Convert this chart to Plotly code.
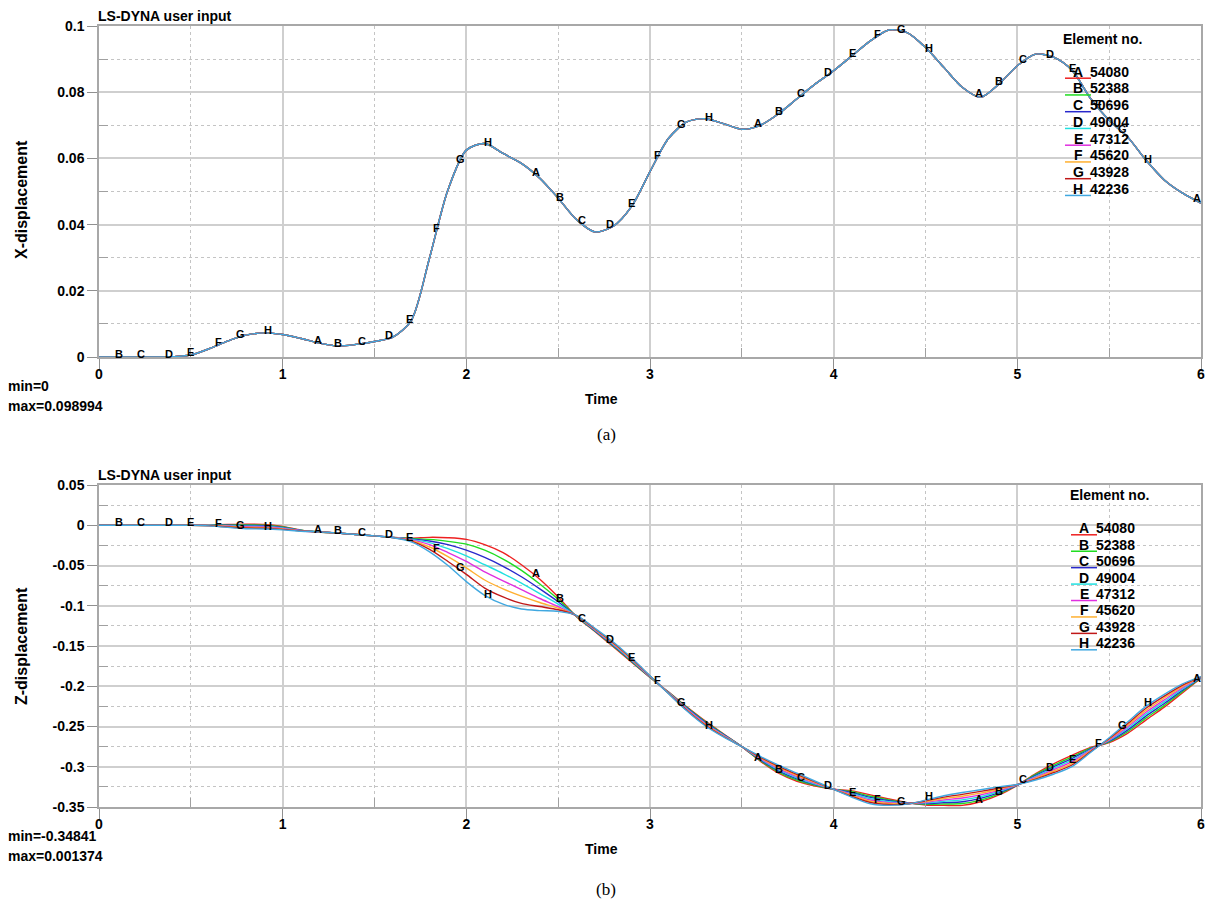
import numpy as np
import plotly.graph_objects as go

W, H = 1213, 904

# ---------------- data ----------------
time = [0.0, 0.1, 0.2, 0.3, 0.4, 0.5, 0.6, 0.7, 0.8, 0.9,
        1.0, 1.1, 1.2, 1.3, 1.4, 1.5, 1.6, 1.7, 1.8, 1.9,
        2.0, 2.1, 2.2, 2.3, 2.4, 2.5, 2.6, 2.7, 2.8, 2.9,
        3.0, 3.1, 3.2, 3.3, 3.4, 3.5, 3.6, 3.7, 3.8, 3.9,
        4.0, 4.1, 4.2, 4.3, 4.4, 4.5, 4.6, 4.7, 4.8, 4.9,
        5.0, 5.1, 5.2, 5.3, 5.4, 5.5, 5.6, 5.7, 5.8, 5.9, 6.0]

letters = ["A", "B", "C", "D", "E", "F", "G", "H"]
elements = ["54080", "52388", "50696", "49004", "47312", "45620", "43928", "42236"]
colors = ["#ee2020", "#20dd20", "#2828cc", "#20e0e0", "#e030e0", "#ffb030", "#c01818", "#40a8e0"]

# X-displacement (all eight elements coincide)
x_disp = [0.0, 0.0, 0.0, 0.0, 0.0001, 0.0006, 0.0025, 0.0048, 0.0066, 0.0073,
          0.0068, 0.0056, 0.0042, 0.0033, 0.0038, 0.0047, 0.0060, 0.0110, 0.0300, 0.0505,
          0.0625, 0.0645, 0.0615, 0.0585, 0.0540, 0.0480, 0.0415, 0.0378, 0.0395, 0.0455,
          0.0560, 0.0660, 0.0710, 0.0720, 0.0705, 0.0688, 0.0700, 0.0735, 0.0780, 0.0825,
          0.0865, 0.0910, 0.0955, 0.0988, 0.0980, 0.0935, 0.0875, 0.0815, 0.0785, 0.0825,
          0.0880, 0.0915, 0.0905, 0.0865, 0.0780, 0.0715, 0.0665, 0.0595, 0.0535, 0.0495, 0.0465]

# Z-displacement per element
z_A = [0, 0, 0, 0, 0, 0, 0.0003, 0.0009, 0.0013, 0.0010,
       -0.0015, -0.0060, -0.0084, -0.0098, -0.0115, -0.0132, -0.0150, -0.0160, -0.0150, -0.0155,
       -0.0175, -0.0240, -0.0340, -0.0490, -0.0670, -0.0890, -0.1135, -0.1320, -0.1510, -0.1700,
       -0.1890, -0.2070, -0.2255, -0.2430, -0.2590, -0.2750, -0.2930, -0.3080, -0.3180, -0.3240,
       -0.3280, -0.3300, -0.3350, -0.3400, -0.3445, -0.3475, -0.3480, -0.3480, -0.3435, -0.3350,
       -0.3230, -0.3085, -0.2960, -0.2855, -0.2760, -0.2700, -0.2585, -0.2420, -0.2260, -0.2080, -0.1900]
z_B = [0, 0, 0, 0, 0, 0, 0.0002, 0.0005, 0.0005, 0.0002,
       -0.0021, -0.0062, -0.0084, -0.0098, -0.0115, -0.0132, -0.0150, -0.0165, -0.0175, -0.0200,
       -0.0235, -0.0310, -0.0420, -0.0560, -0.0730, -0.0920, -0.1133, -0.1314, -0.1501, -0.1693,
       -0.1887, -0.2073, -0.2262, -0.2439, -0.2596, -0.2750, -0.2921, -0.3066, -0.3166, -0.3231,
       -0.3280, -0.3311, -0.3366, -0.3411, -0.3448, -0.3466, -0.3463, -0.3457, -0.3414, -0.3336,
       -0.3229, -0.3096, -0.2979, -0.2875, -0.2769, -0.2691, -0.2565, -0.2396, -0.2237, -0.2064, -0.1897]
z_C = [0, 0, 0, 0, 0, 0, 0.0001, 0.0000, -0.0003, -0.0006,
       -0.0027, -0.0064, -0.0083, -0.0098, -0.0115, -0.0132, -0.0151, -0.0170, -0.0195, -0.0240,
       -0.0310, -0.0400, -0.0510, -0.0640, -0.0790, -0.0950, -0.1131, -0.1309, -0.1493, -0.1686,
       -0.1884, -0.2076, -0.2269, -0.2447, -0.2601, -0.2750, -0.2913, -0.3051, -0.3151, -0.3223,
       -0.3280, -0.3323, -0.3381, -0.3423, -0.3451, -0.3458, -0.3446, -0.3434, -0.3392, -0.3321,
       -0.3227, -0.3108, -0.2997, -0.2895, -0.2777, -0.2683, -0.2545, -0.2371, -0.2214, -0.2049, -0.1894]
z_D = [0, 0, 0, 0, 0, 0, 0.0000, -0.0005, -0.0011, -0.0014,
       -0.0033, -0.0066, -0.0083, -0.0098, -0.0115, -0.0132, -0.0151, -0.0176, -0.0215, -0.0290,
       -0.0380, -0.0490, -0.0600, -0.0720, -0.0850, -0.0980, -0.1129, -0.1303, -0.1484, -0.1679,
       -0.1881, -0.2079, -0.2276, -0.2456, -0.2607, -0.2750, -0.2904, -0.3037, -0.3137, -0.3214,
       -0.3280, -0.3334, -0.3397, -0.3434, -0.3454, -0.3449, -0.3429, -0.3411, -0.3371, -0.3307,
       -0.3226, -0.3119, -0.3016, -0.2915, -0.2786, -0.2674, -0.2525, -0.2347, -0.2191, -0.2033, -0.1891]
z_E = [0, 0, 0, 0, 0, 0, -0.0002, -0.0010, -0.0019, -0.0022,
       -0.0039, -0.0068, -0.0083, -0.0098, -0.0115, -0.0132, -0.0152, -0.0182, -0.0240, -0.0340,
       -0.0450, -0.0580, -0.0690, -0.0800, -0.0910, -0.1010, -0.1127, -0.1297, -0.1476, -0.1671,
       -0.1879, -0.2081, -0.2284, -0.2464, -0.2613, -0.2750, -0.2896, -0.3023, -0.3123, -0.3206,
       -0.3280, -0.3346, -0.3413, -0.3446, -0.3456, -0.3441, -0.3411, -0.3389, -0.3349, -0.3293,
       -0.3224, -0.3131, -0.3034, -0.2935, -0.2794, -0.2666, -0.2505, -0.2323, -0.2169, -0.2017, -0.1889]
z_F = [0, 0, 0, 0, 0, 0, -0.0004, -0.0015, -0.0027, -0.0030,
       -0.0045, -0.0070, -0.0083, -0.0098, -0.0115, -0.0132, -0.0153, -0.0189, -0.0270, -0.0390,
       -0.0530, -0.0680, -0.0790, -0.0880, -0.0960, -0.1030, -0.1125, -0.1291, -0.1467, -0.1664,
       -0.1876, -0.2084, -0.2291, -0.2473, -0.2619, -0.2750, -0.2887, -0.3009, -0.3109, -0.3197,
       -0.3280, -0.3357, -0.3429, -0.3457, -0.3459, -0.3432, -0.3394, -0.3366, -0.3328, -0.3279,
       -0.3223, -0.3142, -0.3053, -0.2955, -0.2803, -0.2657, -0.2485, -0.2299, -0.2146, -0.2001, -0.1886]
z_G = [0, 0, 0, 0, 0, 0, -0.0006, -0.0021, -0.0035, -0.0038,
       -0.0051, -0.0072, -0.0082, -0.0098, -0.0115, -0.0132, -0.0154, -0.0197, -0.0300, -0.0450,
       -0.0610, -0.0780, -0.0890, -0.0970, -0.1010, -0.1050, -0.1123, -0.1286, -0.1459, -0.1657,
       -0.1873, -0.2087, -0.2298, -0.2481, -0.2624, -0.2750, -0.2879, -0.2994, -0.3094, -0.3189,
       -0.3280, -0.3369, -0.3444, -0.3469, -0.3462, -0.3424, -0.3377, -0.3343, -0.3306, -0.3264,
       -0.3221, -0.3154, -0.3071, -0.2975, -0.2811, -0.2649, -0.2465, -0.2274, -0.2123, -0.1986, -0.1883]
z_H = [0, 0, 0, 0, 0, 0, -0.0008, -0.0027, -0.0043, -0.0046,
       -0.0057, -0.0074, -0.0082, -0.0098, -0.0115, -0.0132, -0.0156, -0.0206, -0.0330, -0.0500,
       -0.0700, -0.0870, -0.0980, -0.1040, -0.1060, -0.1070, -0.1120, -0.1280, -0.1450, -0.1650,
       -0.1870, -0.2090, -0.2305, -0.2490, -0.2630, -0.2750, -0.2870, -0.2980, -0.3080, -0.3180,
       -0.3280, -0.3380, -0.3460, -0.3480, -0.3465, -0.3415, -0.3360, -0.3320, -0.3285, -0.3250,
       -0.3220, -0.3165, -0.3090, -0.2995, -0.2820, -0.2640, -0.2445, -0.2250, -0.2100, -0.1970, -0.1880]
z_series = [z_A, z_B, z_C, z_D, z_E, z_F, z_G, z_H]

# times at which each curve's letter marker is printed
lab_A = [1.19, 2.38, 3.59, 4.79, 5.98]
lab_B = [0.11, 1.30, 2.51, 3.70, 4.90]
lab_C = [0.23, 1.43, 2.63, 3.82, 5.03]
lab_D = [0.38, 1.58, 2.78, 3.97, 5.18]
lab_E = [0.50, 1.69, 2.90, 4.10, 5.30]
lab_F = [0.65, 1.84, 3.04, 4.24, 5.44]
lab_G = [0.77, 1.97, 3.17, 4.37, 5.57]
lab_H = [0.92, 2.12, 3.32, 4.52, 5.71]
label_times = [lab_A, lab_B, lab_C, lab_D, lab_E, lab_F, lab_G, lab_H]

x_ticks = [0, 1, 2, 3, 4, 5, 6]
x_minor = [0.5, 1.5, 2.5, 3.5, 4.5, 5.5]
top_ticks = [0, 0.02, 0.04, 0.06, 0.08, 0.1]
top_ticktext = ["0", "0.02", "0.04", "0.06", "0.08", "0.1"]
top_minor = [0.01, 0.03, 0.05, 0.07, 0.09]
bot_ticks = [0.05, 0, -0.05, -0.1, -0.15, -0.2, -0.25, -0.3, -0.35]
bot_ticktext = ["0.05", "0", "-0.05", "-0.1", "-0.15", "-0.2", "-0.25", "-0.3", "-0.35"]
bot_minor = [0.025, -0.025, -0.075, -0.125, -0.175, -0.225, -0.275, -0.325]

top_stats = ["min=0", "max=0.098994"]
bot_stats = ["min=-0.34841", "max=0.001374"]

# ---------------- figure ----------------
FONT = "Liberation Sans, Arial, Helvetica, sans-serif"
def fx(p):
    return p / W
def fy(p):
    return 1 - p / H

fig = go.Figure()

for k in range(8):
    fig.add_trace(go.Scatter(x=time, y=x_disp, mode="lines", xaxis="x", yaxis="y",
                             line=dict(color=colors[k], width=1.4, shape="spline", smoothing=0.8),
                             showlegend=False, hoverinfo="skip"))
for k in range(8):
    fig.add_trace(go.Scatter(x=time, y=z_series[k], mode="lines", xaxis="x2", yaxis="y2",
                             line=dict(color=colors[k], width=1.4, shape="spline", smoothing=0.8),
                             showlegend=False, hoverinfo="skip"))

ann = []
# curve letter labels
for k in range(8):
    for t in label_times[k]:
        ann.append(dict(x=t, y=float(np.interp(t, time, x_disp)), xref="x", yref="y",
                        text="<b>%s</b>" % letters[k], showarrow=False, yshift=3,
                        font=dict(family=FONT, size=11, color="black")))
        ann.append(dict(x=t, y=float(np.interp(t, time, z_series[k])), xref="x2", yref="y2",
                        text="<b>%s</b>" % letters[k], showarrow=False, yshift=3,
                        font=dict(family=FONT, size=11, color="black")))

shapes = []
def legend(title_x, title_y, x_letter, x_num, y0, dy, x_l0, x_l1):
    ann.append(dict(x=fx(title_x), y=fy(title_y), xref="paper", yref="paper", xanchor="left",
                    yanchor="middle", text="<b>Element no.</b>", showarrow=False,
                    font=dict(family=FONT, size=14, color="black")))
    for i in range(8):
        yc = y0 + dy * i
        ann.append(dict(x=fx(x_letter), y=fy(yc), xref="paper", yref="paper", xanchor="center",
                        yanchor="middle", text="<b>%s</b>" % letters[i], showarrow=False,
                        font=dict(family=FONT, size=14, color="black")))
        ann.append(dict(x=fx(x_num), y=fy(yc), xref="paper", yref="paper", xanchor="left",
                        yanchor="middle", text="<b>%s</b>" % elements[i], showarrow=False,
                        font=dict(family=FONT, size=14, color="black")))
        shapes.append(dict(type="line", xref="paper", yref="paper", x0=fx(x_l0), x1=fx(x_l1),
                           y0=fy(yc + 6.5), y1=fy(yc + 6.5), line=dict(color=colors[i], width=1.5)))

legend(1061, 39, 1078, 1088, 71.7, 16.75, 1065, 1091)
legend(1068, 495, 1084, 1094, 528.3, 16.43, 1071, 1097)

def text(xp, yp, s, size=14, anchor="left", fam=FONT, angle=0):
    ann.append(dict(x=fx(xp), y=fy(yp), xref="paper", yref="paper", xanchor=anchor,
                    yanchor="middle", text=s, showarrow=False, textangle=angle,
                    font=dict(family=fam, size=size, color="black")))

text(96, 16, "<b>LS-DYNA user input</b>", 14)
text(96, 475, "<b>LS-DYNA user input</b>", 14)
text(21, 200, "<b>X-displacement</b>", 16, "center", angle=-90)
text(21, 646, "<b>Z-displacement</b>", 16, "center", angle=-90)
text(601, 399, "<b>Time</b>", 14, "center")
text(601, 849, "<b>Time</b>", 14, "center")
text(6, 386, "<b>%s</b>" % top_stats[0], 14)
text(6, 406, "<b>%s</b>" % top_stats[1], 14)
text(6, 836, "<b>%s</b>" % bot_stats[0], 14)
text(6, 856, "<b>%s</b>" % bot_stats[1], 14)
text(606, 435, "(a)", 17, "center", fam="Liberation Serif, Times New Roman, serif")
text(606, 889, "(b)", 17, "center", fam="Liberation Serif, Times New Roman, serif")

GRID = "#cfcfcf"
MINOR = "#c4c4c4"
LINE = "#a8a8a8"
tickfont = dict(family=FONT, size=14, color="black", weight="bold")

def xaxis(anchor):
    return dict(domain=[fx(99), fx(1201)], range=[0, 6], anchor=anchor, automargin=False,
                tickmode="array", tickvals=x_ticks, ticks="outside", ticklen=10,
                tickcolor="#909090", tickwidth=1, tickfont=tickfont, ticklabelstandoff=-7,
                showgrid=True, gridcolor=GRID, gridwidth=1.5,
                showline=True, linecolor=LINE, linewidth=1.5, mirror=True, zeroline=False,
                minor=dict(tickmode="array", tickvals=x_minor, showgrid=True, gridcolor=MINOR,
                           griddash="dot", gridwidth=1, ticks="inside", ticklen=9,
                           tickcolor="#a0a0a0"))

def yaxis(anchor, dom, rng, tv, tt, mv):
    return dict(domain=dom, range=rng, anchor=anchor, automargin=False,
                tickmode="array", tickvals=tv, ticktext=tt, ticks="outside", ticklen=10,
                tickcolor="#909090", tickwidth=1, tickfont=tickfont,
                showgrid=True, gridcolor=GRID, gridwidth=1.5,
                showline=True, linecolor=LINE, linewidth=1.5, mirror=True, zeroline=False,
                minor=dict(tickmode="array", tickvals=mv, showgrid=True, gridcolor=MINOR,
                           griddash="dot", gridwidth=1, ticks="inside", ticklen=9,
                           tickcolor="#a0a0a0"))

fig.update_layout(
    width=W, height=H, margin=dict(l=0, r=0, t=0, b=0, pad=0, autoexpand=False),
    paper_bgcolor="white", plot_bgcolor="white", showlegend=False,
    xaxis=xaxis("y"),
    yaxis=yaxis("x", [fy(357), fy(26)], [0, 0.1], top_ticks, top_ticktext, top_minor),
    xaxis2=xaxis("y2"),
    yaxis2=yaxis("x2", [fy(807), fy(485)], [-0.35, 0.05], bot_ticks, bot_ticktext, bot_minor),
    annotations=ann, shapes=shapes,
)

fig.write_html("out.html")
